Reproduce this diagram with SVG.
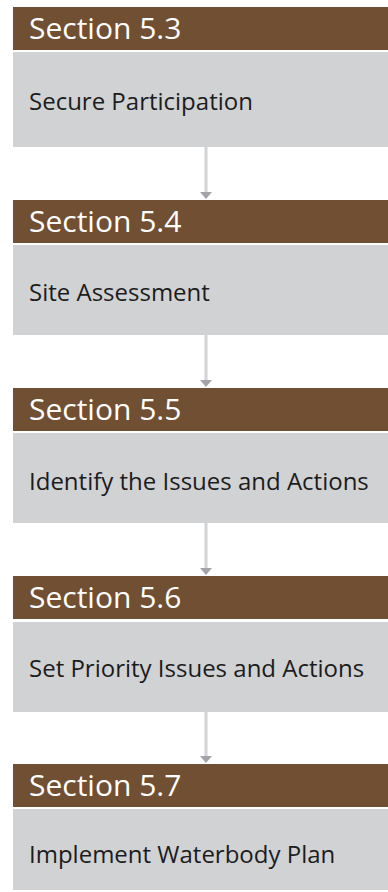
<svg xmlns="http://www.w3.org/2000/svg" width="388" height="892" viewBox="0 0 388 892">
  <defs>
    <style>
      .hdr { fill: #704f33; }
      .box { fill: #d1d2d4; }
      .hdr-text { fill: #ffffff; font-family: "Open Sans", "Liberation Sans", sans-serif; font-size: 30px; }
      .box-text { fill: #1c1c1c; font-family: "Open Sans", "Liberation Sans", sans-serif; font-size: 24px; }
      .link { stroke: #d1d2d4; stroke-width: 3; fill: none; }
      .tip { fill: #a3a4a8; }
    </style>
  </defs>
  <rect width="388" height="892" fill="#ffffff"/>

  <!-- step boxes: brown section header over grey description -->
  <g id="step-5-3">
    <rect class="hdr" x="13" y="7" width="375" height="43"/>
    <text class="hdr-text" x="29" y="39">Section 5.3</text>
    <rect class="box" x="13" y="52" width="375" height="95"/>
    <text class="box-text" x="29" y="110">Secure Participation</text>
  </g>

  <g id="step-5-4">
    <rect class="hdr" x="13" y="200" width="375" height="43"/>
    <text class="hdr-text" x="29" y="232">Section 5.4</text>
    <rect class="box" x="13" y="245" width="375" height="90"/>
    <text class="box-text" x="29" y="301">Site Assessment</text>
  </g>

  <g id="step-5-5">
    <rect class="hdr" x="13" y="388" width="375" height="43"/>
    <text class="hdr-text" x="29" y="420">Section 5.5</text>
    <rect class="box" x="13" y="433" width="375" height="90"/>
    <text class="box-text" x="29" y="490">Identify the Issues and Actions</text>
  </g>

  <g id="step-5-6">
    <rect class="hdr" x="13" y="576" width="375" height="43"/>
    <text class="hdr-text" x="29" y="608">Section 5.6</text>
    <rect class="box" x="13" y="622" width="375" height="90"/>
    <text class="box-text" x="29" y="677">Set Priority Issues and Actions</text>
  </g>

  <g id="step-5-7">
    <rect class="hdr" x="13" y="764" width="375" height="43"/>
    <text class="hdr-text" x="29" y="796">Section 5.7</text>
    <rect class="box" x="13" y="809" width="375" height="81"/>
    <text class="box-text" x="29" y="863">Implement Waterbody Plan</text>
  </g>

  <!-- connectors between steps -->
  <g id="connectors">
    <line class="link" x1="206" y1="147" x2="206" y2="193"/>
    <polygon class="tip" points="200,192 212,192 206,199"/>
    <line class="link" x1="206" y1="335" x2="206" y2="381"/>
    <polygon class="tip" points="200,380 212,380 206,387"/>
    <line class="link" x1="206" y1="523" x2="206" y2="569"/>
    <polygon class="tip" points="200,568 212,568 206,575"/>
    <line class="link" x1="206" y1="712" x2="206" y2="757"/>
    <polygon class="tip" points="200,756 212,756 206,763"/>
  </g>
</svg>
